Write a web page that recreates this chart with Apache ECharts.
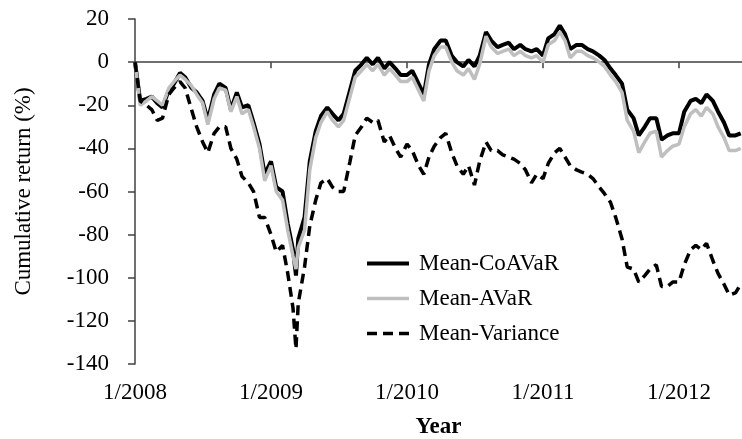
<!DOCTYPE html>
<html>
<head>
<meta charset="utf-8">
<script src="https://cdn.jsdelivr.net/npm/echarts@6/dist/echarts.min.js"></script>
<style>
    html, body { margin: 0; padding: 0; background: #fff; }
    #chart { width: 742px; height: 439px; }
</style>
</head>
<body>
<div id="chart"></div>
<script>
    // half-month sample dates (plus the March 2009 low)
    var dates = [
        '2008-01-01','2008-01-15','2008-02-01','2008-02-15','2008-03-01','2008-03-15','2008-04-01','2008-04-15',
        '2008-05-01','2008-05-15','2008-06-01','2008-06-15','2008-07-01','2008-07-15','2008-08-01','2008-08-15',
        '2008-09-01','2008-09-15','2008-10-01','2008-10-15','2008-11-01','2008-11-15','2008-12-01','2008-12-15',
        '2009-01-01','2009-01-15','2009-02-01','2009-02-15','2009-03-01','2009-03-09','2009-03-15','2009-04-01',
        '2009-04-15','2009-05-01','2009-05-15','2009-06-01','2009-06-15','2009-07-01','2009-07-15','2009-08-01',
        '2009-08-15','2009-09-01','2009-09-15','2009-10-01','2009-10-15','2009-11-01','2009-11-15','2009-12-01','2009-12-15',
        '2010-01-01','2010-01-15','2010-02-01','2010-02-15','2010-03-01','2010-03-15','2010-04-01','2010-04-15',
        '2010-05-01','2010-05-15','2010-06-01','2010-06-15','2010-07-01','2010-07-15','2010-08-01','2010-08-15',
        '2010-09-01','2010-09-15','2010-10-01','2010-10-15','2010-11-01','2010-11-15','2010-12-01','2010-12-15',
        '2011-01-01','2011-01-15','2011-02-01','2011-02-15','2011-03-01','2011-03-15','2011-04-01','2011-04-15',
        '2011-05-01','2011-05-15','2011-06-01','2011-06-15','2011-07-01','2011-07-15','2011-08-01','2011-08-15',
        '2011-09-01','2011-09-15','2011-10-01','2011-10-15','2011-11-01','2011-11-15','2011-12-01','2011-12-15',
        '2012-01-01','2012-01-15','2012-02-01','2012-02-15','2012-03-01','2012-03-15','2012-04-01','2012-04-15',
        '2012-05-01','2012-05-15','2012-06-01','2012-06-15'
    ];

    var meanCoAVaR = [
        0, -18, -17, -16, -19, -21, -13, -10, -5, -7, -12, -14, -18, -27, -15, -10, -12, -22, -14, -21, -20, -28, -38, -52,
        -46, -58, -60, -75, -87, -99, -82, -72, -46, -32, -25, -21, -24, -27, -24, -13, -4, -1, 2, -1, 2, -3, 0, -3, -6,
        -6, -4, -10, -15, -1, 6, 10, 10, 3, 0, -2, 1, -2, 3, 14, 10, 7, 8, 9, 6, 8, 6, 5, 6,
        3, 11, 13, 17, 13, 6, 8, 8, 6, 5, 3, 1, -3, -6, -10, -22, -26, -34, -30, -26, -26, -36, -34, -33,
        -33, -23, -18, -17, -19, -15, -18, -23, -28, -34, -34, -33
    ];
    var meanAVaR = [
        0, -20, -18, -16, -18, -20, -12, -9, -6, -8, -11, -15, -19, -29, -17, -12, -13, -23, -16, -24, -22, -30, -40, -55,
        -48, -60, -64, -78, -90, -96, -86, -78, -50, -35, -28, -23, -27, -30, -27, -16, -7, -4, -1, -4, -1, -6, -3, -6, -9,
        -9, -7, -13, -18, -4, 3, 7, 7, 0, -4, -6, -3, -8, -1, 12, 7, 4, 5, 6, 3, 5, 3, 2, 3,
        0, 8, 10, 14, 10, 2, 5, 5, 3, 2, 0, -2, -6, -9, -14, -27, -32, -42, -37, -33, -32, -44, -41, -39,
        -38, -30, -24, -22, -25, -21, -24, -30, -35, -41, -41, -40
    ];
    var meanVariance = [
        0, -18, -20, -22, -27, -26, -15, -12, -9, -12, -22, -30, -37, -42, -33, -30, -30, -40, -45, -53, -56, -60, -72, -72,
        -80, -88, -85, -98, -114, -133, -112, -95, -76, -64, -56, -54, -58, -60, -60, -46, -34, -30, -26, -28, -27, -37, -34, -40, -44,
        -38, -41, -48, -52, -44, -39, -35, -33, -42, -48, -52, -48, -57, -46, -37, -41, -41, -43, -44, -45, -47, -50, -56, -52,
        -54, -47, -42, -40, -44, -48, -50, -51, -52, -54, -58, -61, -65, -72, -82, -95, -96, -102, -99, -96, -94, -104, -104, -102,
        -102, -94, -87, -85, -87, -84, -92, -98, -103, -108, -107, -103
    ];

    var yearTicks = [2008, 2009, 2010, 2011, 2012];
    var seriesNames = ['Mean-CoAVaR', 'Mean-AVaR', 'Mean-Variance'];

    // date string -> fractional year
    function toYear(s) {
        var p = s.split('-');
        var y = +p[0];
        var t = Date.UTC(y, +p[1] - 1, +p[2]);
        var a = Date.UTC(y, 0, 1), b = Date.UTC(y + 1, 0, 1);
        return y + (t - a) / (b - a);
    }
    function pairs(vals) {
        return vals.map(function (v, i) { return [toYear(dates[i]), v]; });
    }

    var FONT = '"Liberation Serif", "Times New Roman", serif';
    var chart = echarts.init(document.getElementById('chart'), null, { renderer: 'canvas' });

    var option = {
        animation: false,
        backgroundColor: '#fff',
        textStyle: { fontFamily: FONT, color: '#000' },
        grid: { left: 135, right: 0, top: 19, bottom: 75, outerBoundsMode: 'none', containLabel: false },
        legend: {
            data: seriesNames,
            orient: 'vertical',
            left: 360,
            top: 247,
            itemWidth: 42,
            itemHeight: 14,
            itemGap: 12,
            itemStyle: { opacity: 0 },
            lineStyle: { width: 'inherit' },
            textStyle: { fontFamily: FONT, fontSize: 23, color: '#000', lineHeight: 23, padding: [0, 0, 0, 5] }
        },
        xAxis: [{
            type: 'value',
            min: 2008,
            max: 2012.463,
            interval: 1,
            name: 'Year',
            nameLocation: 'middle',
            nameGap: 52,
            nameTextStyle: { fontFamily: FONT, fontSize: 23, fontWeight: 'bold', color: '#000' },
            axisLine: { show: false, onZero: false },
            axisTick: { show: false },
            splitLine: { show: false },
            axisLabel: {
                customValues: yearTicks,
                margin: 17,
                fontFamily: FONT, fontSize: 23, color: '#000',
                formatter: function (v) { return '1/' + v; }
            }
        }, {
            type: 'value',
            min: 2008,
            max: 2012.463,
            interval: 1,
            position: 'bottom',
            axisLine: { show: true, onZero: true, lineStyle: { color: '#404040', width: 1.5 } },
            axisTick: { show: true, customValues: yearTicks, length: 6, lineStyle: { color: '#404040', width: 1.5 } },
            axisLabel: { show: false },
            splitLine: { show: false }
        }],
        yAxis: {
            type: 'value',
            min: -140,
            max: 20,
            interval: 20,
            name: 'Cumulative return (%)',
            nameLocation: 'middle',
            nameGap: 100,
            nameTextStyle: { fontFamily: FONT, fontSize: 23, color: '#000' },
            axisLine: { show: true, onZero: false, lineStyle: { color: '#404040', width: 1.5 } },
            axisTick: { show: true, length: 7, lineStyle: { color: '#404040', width: 1.5 } },
            axisLabel: { margin: 26, fontFamily: FONT, fontSize: 23, color: '#000' },
            splitLine: { show: false }
        },
        series: [{
            name: seriesNames[0],
            type: 'line',
            xAxisIndex: 0,
            symbol: 'none',
            data: pairs(meanCoAVaR),
            lineStyle: { color: '#000', width: 4 },
            itemStyle: { color: '#000' }
        }, {
            name: seriesNames[1],
            type: 'line',
            xAxisIndex: 0,
            symbol: 'none',
            data: pairs(meanAVaR),
            lineStyle: { color: '#bfbfbf', width: 3.5 },
            itemStyle: { color: '#bfbfbf' }
        }, {
            name: seriesNames[2],
            type: 'line',
            xAxisIndex: 0,
            symbol: 'none',
            data: pairs(meanVariance),
            lineStyle: { color: '#000', width: 3.5, type: [10, 6] },
            itemStyle: { color: '#000' }
        }]
    };

    chart.setOption(option);
</script>
</body>
</html>
